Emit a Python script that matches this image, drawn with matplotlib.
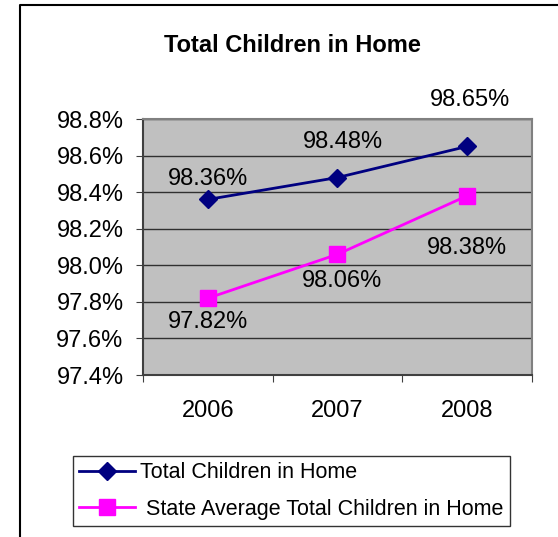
import matplotlib
matplotlib.use("Agg")
import matplotlib.pyplot as plt
from matplotlib.lines import Line2D

plt.rcParams['font.family'] = ['Liberation Sans', 'DejaVu Sans']

years = ['2006', '2007', '2008']
total_children = [98.36, 98.48, 98.65]
state_average = [97.82, 98.06, 98.38]
y_ticks = [97.4, 97.6, 97.8, 98.0, 98.2, 98.4, 98.6, 98.8]

# label offsets in pixels, roughly as placed in the original
total_offsets = [(0, 20), (5, 36), (3, 46)]
state_offsets = [(0, -24), (5, -27), (0, -52)]

W, H = 558, 537
fs = 17
fig = plt.figure(figsize=(W / 100, H / 100), dpi=100)
ax = fig.add_axes([143 / W, 1 - 375 / H, (532 - 143) / W, (375 - 119) / H])
ax.set_facecolor('#C0C0C0')

x = [i + 0.5 for i in range(len(years))]
ax.plot(x, total_children, color='#000080', lw=2, marker='D', ms=9,
        label='Total Children in Home', zorder=3)
ax.plot(x, state_average, color='#FF00FF', lw=2, marker='s', ms=11.5,
        label=' State Average Total Children in Home', zorder=3)

for xi, v, off in zip(x, total_children, total_offsets):
    ax.annotate('%.2f%%' % v, (xi, v), xytext=off, textcoords='offset pixels',
                ha='center', va='center', fontsize=fs)
for xi, v, off in zip(x, state_average, state_offsets):
    ax.annotate('%.2f%%' % v, (xi, v), xytext=off, textcoords='offset pixels',
                ha='center', va='center', fontsize=fs)

ax.set_xlim(0, 3)
ax.set_ylim(97.4, 98.8)
ax.set_yticks(y_ticks)
ax.set_yticklabels(['%.1f%%' % t for t in y_ticks], fontsize=fs)
ax.set_xticks([0, 1, 2, 3])
ax.set_xticklabels([])
ax.set_xticks(x, minor=True)
ax.set_xticklabels(years, minor=True, fontsize=fs)
ax.tick_params(axis='x', which='minor', length=0, pad=18)
ax.tick_params(axis='x', which='major', direction='out', length=5, color='#404040')
ax.tick_params(axis='y', direction='out', length=5, color='#404040', pad=9)
ax.yaxis.grid(True, color='#303030', lw=1)
ax.set_axisbelow(True)
for s in ax.spines.values():
    s.set_color('#808080')
    s.set_linewidth(1.5)
ax.spines['left'].set_color('#404040')
ax.spines['bottom'].set_color('#404040')

fig.text((162 + 422) / 2 / W, 1 - 46 / H, 'Total Children in Home',
         ha='center', va='center', fontsize=17, fontweight='bold')

# outer chart border (cropped)
fig.add_artist(Line2D([20 / W, 20 / W, 1], [0, 1 - 5 / H, 1 - 5 / H],
                      transform=fig.transFigure, color='black', lw=1.5))

leg = fig.legend(loc='upper left', bbox_to_anchor=(73 / W, 1 - 456 / H),
                 fontsize=15.5, frameon=True, fancybox=False, borderpad=0.3,
                 handlelength=2.6, handletextpad=0.2, labelspacing=0.7,
                 borderaxespad=0)
leg.get_frame().set_edgecolor('black')
leg.get_frame().set_linewidth(1)

fig.savefig('out.png', dpi=100)
